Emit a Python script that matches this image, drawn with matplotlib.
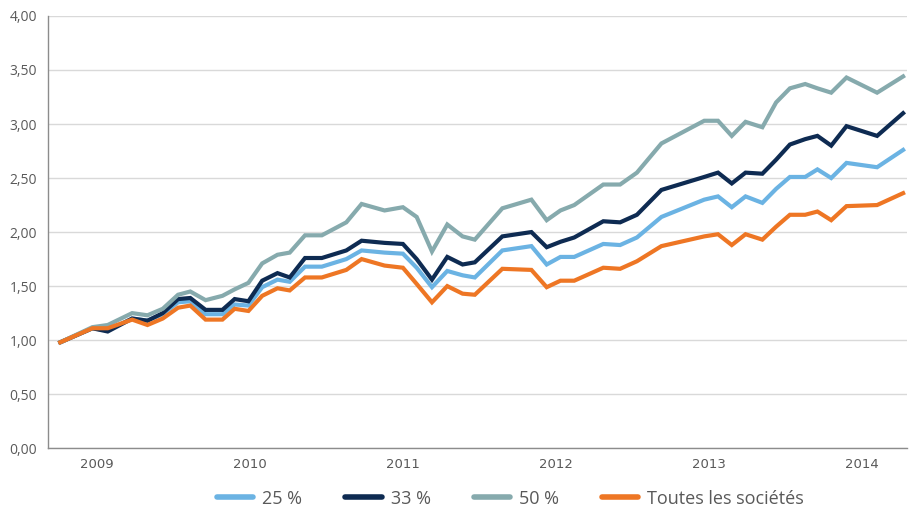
import matplotlib

matplotlib.use("Agg")
import matplotlib.pyplot as plt
from matplotlib.ticker import FuncFormatter, MultipleLocator

# dates as decimal years
DATES = [2008.76, 2008.97, 2009.07, 2009.23, 2009.33, 2009.43, 2009.53, 2009.61,
         2009.71, 2009.82, 2009.90, 2009.99, 2010.08, 2010.18, 2010.26, 2010.36,
         2010.47, 2010.63, 2010.73, 2010.88, 2011.00, 2011.09, 2011.19, 2011.29,
         2011.39, 2011.47, 2011.65, 2011.84, 2011.94, 2012.03, 2012.12, 2012.31,
         2012.42, 2012.53, 2012.69, 2012.97, 2013.06, 2013.15, 2013.24, 2013.35,
         2013.44, 2013.53, 2013.63, 2013.71, 2013.80, 2013.90, 2014.10, 2014.27]

P25 = [0.98, 1.11, 1.09, 1.20, 1.18, 1.24, 1.35, 1.36, 1.24, 1.24, 1.33, 1.32,
       1.49, 1.56, 1.54, 1.68, 1.68, 1.75, 1.83, 1.81, 1.80, 1.67, 1.49, 1.64,
       1.60, 1.58, 1.83, 1.87, 1.70, 1.77, 1.77, 1.89, 1.88, 1.95, 2.14, 2.30,
       2.33, 2.23, 2.33, 2.27, 2.40, 2.51, 2.51, 2.58, 2.50, 2.64, 2.60, 2.76]

P33 = [0.98, 1.11, 1.08, 1.20, 1.18, 1.25, 1.38, 1.39, 1.28, 1.28, 1.38, 1.36,
       1.55, 1.62, 1.58, 1.76, 1.76, 1.83, 1.92, 1.90, 1.89, 1.75, 1.56, 1.77,
       1.70, 1.72, 1.96, 2.00, 1.86, 1.91, 1.95, 2.10, 2.09, 2.16, 2.39, 2.51,
       2.55, 2.45, 2.55, 2.54, 2.67, 2.81, 2.86, 2.89, 2.80, 2.98, 2.89, 3.10]

P50 = [0.98, 1.12, 1.14, 1.25, 1.23, 1.29, 1.42, 1.45, 1.37, 1.41, 1.47, 1.53,
       1.71, 1.79, 1.81, 1.97, 1.97, 2.09, 2.26, 2.20, 2.23, 2.14, 1.82, 2.07,
       1.96, 1.93, 2.22, 2.30, 2.11, 2.20, 2.25, 2.44, 2.44, 2.55, 2.82, 3.03,
       3.03, 2.89, 3.02, 2.97, 3.20, 3.33, 3.37, 3.33, 3.29, 3.43, 3.29, 3.44]

ALL = [0.98, 1.11, 1.11, 1.19, 1.14, 1.20, 1.30, 1.32, 1.19, 1.19, 1.29, 1.27,
       1.41, 1.48, 1.46, 1.58, 1.58, 1.65, 1.75, 1.69, 1.67, 1.52, 1.35, 1.50,
       1.43, 1.42, 1.66, 1.65, 1.49, 1.55, 1.55, 1.67, 1.66, 1.73, 1.87, 1.96,
       1.98, 1.88, 1.98, 1.93, 2.05, 2.16, 2.16, 2.19, 2.11, 2.24, 2.25, 2.36]

YEARS = [2009, 2010, 2011, 2012, 2013, 2014]

SERIES = [("25 %", P25, "#6BB3E3"), ("33 %", P33, "#0E2B52"),
          ("50 %", P50, "#86AAAD"), ("Toutes les sociétés", ALL, "#EE7624")]

TEXT = "#595959"

fig = plt.figure(figsize=(9.15, 5.14), dpi=100)
ax = fig.add_axes([0.0525, 0.128, 0.9385, 0.841])

for label, vals, color in SERIES:
    ax.plot(DATES, vals, color=color, lw=3.0, label=label, solid_joinstyle="miter")

ax.set_xlim(2008.68, 2014.294)
ax.set_ylim(0, 4)
ax.yaxis.set_major_locator(MultipleLocator(0.5))
ax.yaxis.set_major_formatter(FuncFormatter(lambda v, _: f"{v:.2f}".replace(".", ",")))
ax.grid(axis="y", color="#D9D9D9", lw=1)
ax.set_axisbelow(True)
ax.set_xticks(YEARS)
ax.set_xticklabels([str(y) for y in YEARS], family=["Liberation Sans Narrow", "DejaVu Sans"])
ax.tick_params(axis="x", length=0, pad=7, labelsize=9.5, colors=TEXT)
ax.tick_params(axis="y", length=0, pad=8, labelsize=10, colors=TEXT)
for lbl in ax.get_yticklabels():
    lbl.set_family("Open Sans")

for side in ("top", "right"):
    ax.spines[side].set_visible(False)
for side in ("left", "bottom"):
    ax.spines[side].set_color("#8C8C8C")
    ax.spines[side].set_linewidth(1)

leg = fig.legend(loc="center", bbox_to_anchor=(0.558, 0.03), ncol=4, frameon=False,
                 prop={"family": "Open Sans", "size": 13}, handlelength=2.0,
                 columnspacing=2.4, handletextpad=0.5)
for t in leg.get_texts():
    t.set_color(TEXT)
for h in leg.get_lines():
    h.set_linewidth(4)
    h.set_solid_capstyle("round")

fig.savefig("out.png", dpi=100)
